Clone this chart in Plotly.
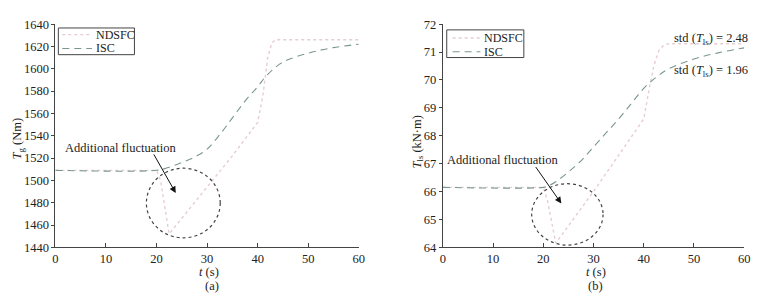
import plotly.graph_objects as go

# ---- data ----
series_names = ["NDSFC", "ISC"]
t_ndsfc_a = [0, 20, 20.8, 22.5, 30, 35, 40, 41, 42, 42.8, 43.5, 50, 60]
ndsfc_a = [1509, 1509, 1500, 1452, 1494, 1522, 1552, 1575, 1610, 1623, 1626, 1626, 1626]
t_isc_a = [0, 20, 22, 25, 28, 30, 32.5, 35, 37.5, 40, 42, 45, 50, 55, 60]
isc_a = [1509, 1509, 1511, 1516, 1522, 1528, 1541, 1556, 1571, 1584, 1595, 1606, 1614, 1619, 1622]

t_ndsfc_b = [0, 20, 20.8, 22.5, 30, 35, 40, 41, 42, 43, 44, 45, 50, 60]
ndsfc_b = [66.15, 66.15, 65.7, 64.15, 66.0, 67.3, 68.6, 69.6, 70.5, 71.05, 71.25, 71.3, 71.3, 71.3]
t_isc_b = [0, 20, 21, 22.5, 25, 27.5, 30, 32.5, 35, 37.5, 40, 42.5, 45, 50, 55, 60]
isc_b = [66.15, 66.15, 66.2, 66.35, 66.7, 67.1, 67.6, 68.1, 68.6, 69.15, 69.7, 70.1, 70.4, 70.75, 70.98, 71.15]

x_ticks = [0, 10, 20, 30, 40, 50, 60]
y_ticks_a = [1440, 1460, 1480, 1500, 1520, 1540, 1560, 1580, 1600, 1620, 1640]
y_ticks_b = [64, 65, 66, 67, 68, 69, 70, 71, 72]
std_labels = ["std (<i>T</i><sub>ls</sub>) = 2.48", "std (<i>T</i><sub>ls</sub>) = 1.96"]

FONT = "Liberation Serif"
FS = 12.5
C_ND = "#e6cdd1"
C_ISC = "#7a9690"
AX = "#444"
TXT = "#222"
W, H = 769, 302

ND_LINE = dict(color=C_ND, width=1.4, dash="dot")
ISC_LINE = dict(color=C_ISC, width=1.1, dash="7px,5px")

fig = go.Figure()
fig.add_trace(go.Scatter(x=t_ndsfc_a, y=ndsfc_a, mode="lines", name=series_names[0],
                         line=ND_LINE, xaxis="x", yaxis="y"))
fig.add_trace(go.Scatter(x=t_isc_a, y=isc_a, mode="lines", name=series_names[1], line_shape="spline",
                         line=ISC_LINE, xaxis="x", yaxis="y"))
fig.add_trace(go.Scatter(x=t_ndsfc_b, y=ndsfc_b, mode="lines", name=series_names[0],
                         line=ND_LINE, xaxis="x2", yaxis="y2"))
fig.add_trace(go.Scatter(x=t_isc_b, y=isc_b, mode="lines", name=series_names[1], line_shape="spline",
                         line=ISC_LINE, xaxis="x2", yaxis="y2"))


def px_x(p):
    return p / W


def px_y(p):
    return 1 - p / H


ydom = [px_y(252), px_y(18)]
tick_font = dict(family=FONT, size=FS, color=TXT)
common_x = dict(range=[0, 60], tickvals=x_ticks, showline=True, linecolor=AX, linewidth=1,
                ticks="inside", ticklen=4, tickcolor=AX, showgrid=False, zeroline=False,
                tickfont=tick_font)
common_y = dict(showline=True, linecolor=AX, linewidth=1, ticks="outside", ticklen=3,
                tickcolor=AX, showgrid=False, zeroline=False, tickfont=tick_font)

fig.update_layout(
    width=W, height=H, margin=dict(l=0, r=0, t=0, b=0),
    paper_bgcolor="white", plot_bgcolor="white", showlegend=False,
    xaxis=dict(domain=[px_x(53), px_x(360)], anchor="y", **common_x),
    yaxis=dict(domain=ydom, anchor="x", range=[1440, 1640], tickvals=y_ticks_a, **common_y),
    xaxis2=dict(domain=[px_x(445), px_x(750)], anchor="y2", **common_x),
    yaxis2=dict(domain=ydom, anchor="x2", range=[64, 72], tickvals=y_ticks_b, **common_y),
)

tf = dict(family=FONT, size=FS, color=TXT)
lf = dict(family=FONT, size=12, color=TXT)


def pa(text, x, y, xanchor="center", **kw):
    return dict(text=text, xref="paper", yref="paper", x=px_x(x), y=px_y(y), showarrow=False,
                xanchor=xanchor, yanchor="middle", font=tf, **kw)


ann = [
    pa("<i>t</i> (s)", 208, 278),
    pa("(a)", 211, 293),
    pa("<i>t</i> (s)", 600, 278),
    pa("(b)", 600, 293),
    pa("<i>T</i><sub>g</sub> (Nm)", 15, 138, textangle=-90),
    pa("<i>T</i><sub>ls</sub> (kN·m)", 420, 142, textangle=-90),
    pa(std_labels[0], 716, 34),
    pa(std_labels[1], 716, 67),
    dict(text="Additional fluctuation", xref="x", yref="y", x=12.9, y=1529, showarrow=False,
         xanchor="center", yanchor="middle", font=tf),
    dict(text="Additional fluctuation", xref="x2", yref="y2", x=11.8, y=67.14, showarrow=False,
         xanchor="center", yanchor="middle", font=tf),
    dict(text="", xref="x", yref="y", x=23.8, y=1488.7, axref="x", ayref="y", ax=19.3, ay=1524.6,
         showarrow=True, arrowhead=2, arrowsize=1.3, arrowwidth=1, arrowcolor="#111"),
    dict(text="", xref="x2", yref="y2", x=23.6, y=65.57, axref="x2", ayref="y2", ax=18.3, ay=66.93,
         showarrow=True, arrowhead=2, arrowsize=1.3, arrowwidth=1, arrowcolor="#111"),
]

shapes = [
    dict(type="circle", xref="x", yref="y", x0=18.0, x1=32.6, y0=1448.5, y1=1510.9,
         line=dict(color="#444", width=1.2, dash="dot")),
    dict(type="circle", xref="x2", yref="y2", x0=17.7, x1=31.9, y0=64.08, y1=66.28,
         line=dict(color="#444", width=1.2, dash="dot")),
]

# compact legends (box, line samples, labels)
legend_boxes = [
    dict(x0=56, x1=133, y0=22, y1=50, rows=[29, 43.5], sx0=60, sx1=90, tx=92),
    dict(x0=449, x1=527, y0=24, y1=53, rows=[32.5, 47], sx0=455, sx1=483, tx=485),
]
for lb in legend_boxes:
    shapes.append(dict(type="rect", xref="paper", yref="paper", x0=px_x(lb["x0"]), x1=px_x(lb["x1"]),
                       y0=px_y(lb["y1"]), y1=px_y(lb["y0"]), line=dict(color=AX, width=1),
                       fillcolor="white", layer="above"))
    for name, row, st in zip(series_names, lb["rows"], [ND_LINE, ISC_LINE]):
        shapes.append(dict(type="line", xref="paper", yref="paper", x0=px_x(lb["sx0"]), x1=px_x(lb["sx1"]),
                           y0=px_y(row), y1=px_y(row), line=st, layer="above"))
        ann.append(dict(text=name, xref="paper", yref="paper", x=px_x(lb["tx"]), y=px_y(row),
                        showarrow=False, xanchor="left", yanchor="middle", font=lf))

fig.update_layout(annotations=ann, shapes=shapes)
fig.write_html("out.html")
